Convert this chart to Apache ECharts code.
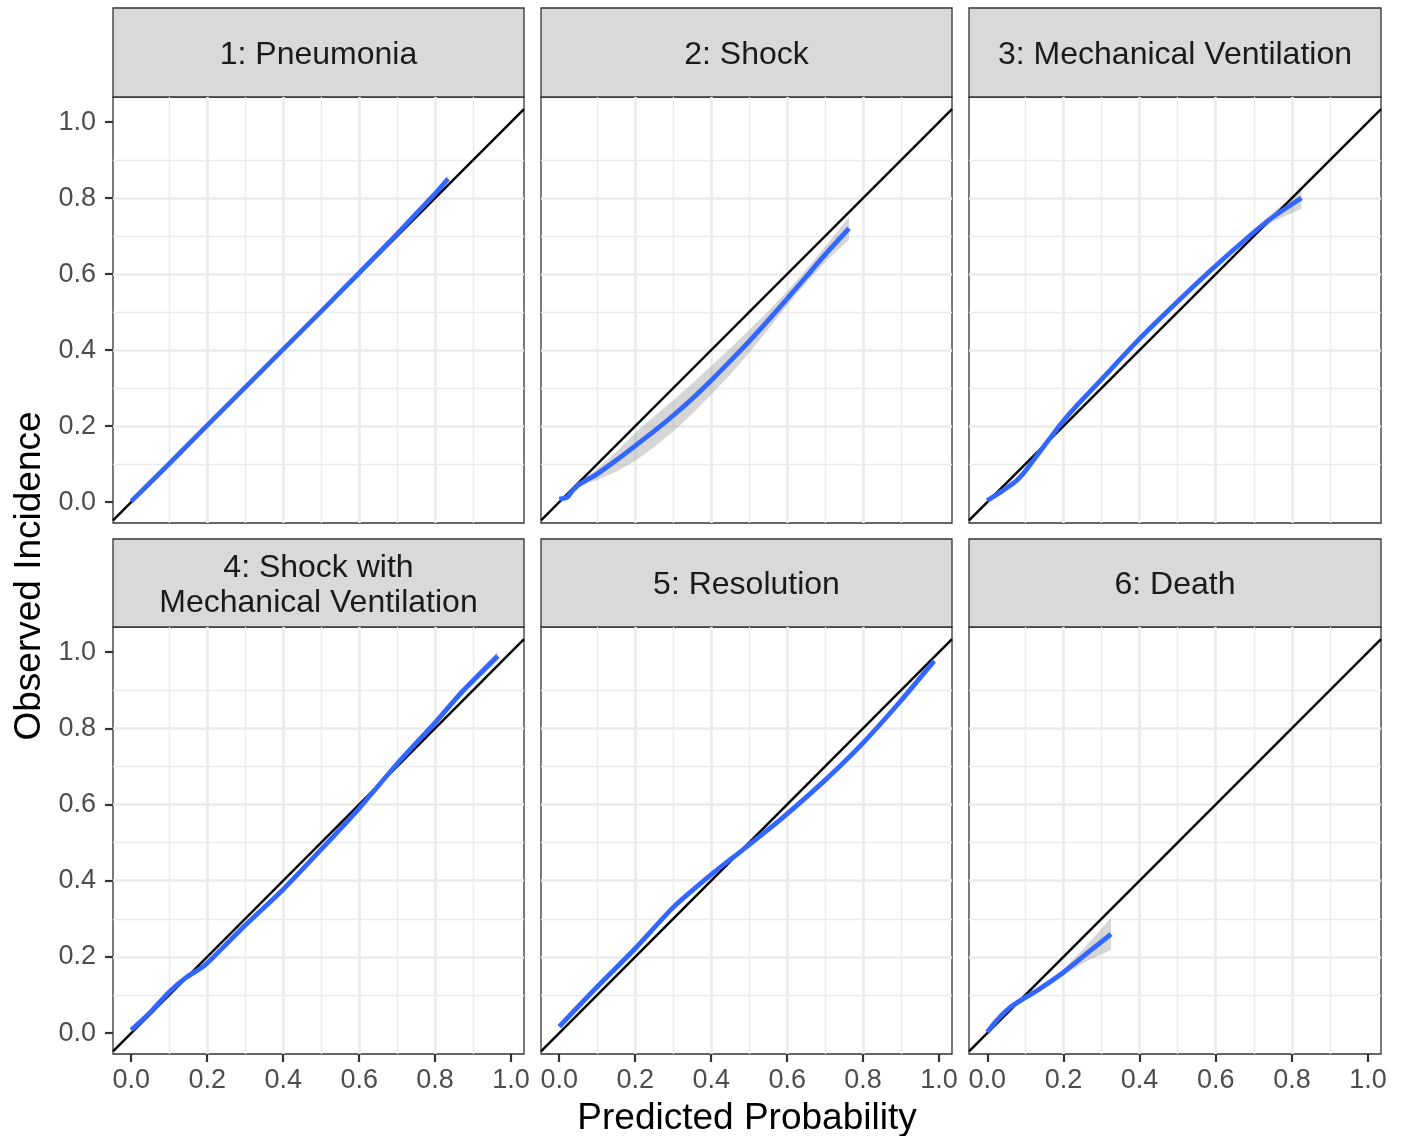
<!DOCTYPE html>
<html>
<head>
<meta charset="utf-8">
<script src="https://cdn.jsdelivr.net/npm/echarts@6/dist/echarts.min.js"></script>
<style>
html,body{margin:0;padding:0;background:#ffffff;}
#chart{width:1402px;height:1136px;}
</style>
</head>
<body>
<div id="chart"></div>
<script>
// ---------- data ----------
const panelTitles = ['1: Pneumonia', '2: Shock', '3: Mechanical Ventilation',
  '4: Shock with\nMechanical Ventilation', '5: Resolution', '6: Death'];
const tickValues = [0.0, 0.2, 0.4, 0.6, 0.8, 1.0];
const xLimits = [-0.048, 1.034];
const yLimits = [-0.055, 1.066];
const ablineIntercept = 0;
const ablineSlope = 1;
const xTitle = 'Predicted Probability';
const yTitle = 'Observed Incidence';

const pneumoniaX  = [0.0, 0.1, 0.2, 0.3, 0.4, 0.5, 0.6, 0.7, 0.8, 0.834];
const pneumoniaY  = [0.002, 0.101, 0.202, 0.302, 0.402, 0.502, 0.603, 0.706, 0.812, 0.851];
const pneumoniaLo = [-0.002, 0.098, 0.199, 0.299, 0.399, 0.499, 0.600, 0.702, 0.806, 0.842];
const pneumoniaHi = [0.006, 0.104, 0.205, 0.305, 0.405, 0.505, 0.606, 0.710, 0.818, 0.860];

const shockX  = [0.0, 0.02, 0.035, 0.05, 0.07, 0.1, 0.15, 0.2, 0.25, 0.3, 0.35, 0.4, 0.45, 0.5, 0.55, 0.6, 0.65, 0.7, 0.763];
const shockY  = [0.008, 0.012, 0.030, 0.045, 0.057, 0.074, 0.110, 0.148, 0.187, 0.228, 0.272, 0.320, 0.371, 0.423, 0.478, 0.535, 0.593, 0.651, 0.720];
const shockLo = [0.006, 0.009, 0.026, 0.040, 0.048, 0.058, 0.080, 0.108, 0.145, 0.186, 0.232, 0.283, 0.335, 0.393, 0.455, 0.518, 0.576, 0.632, 0.691];
const shockHi = [0.010, 0.015, 0.034, 0.050, 0.064, 0.088, 0.132, 0.182, 0.226, 0.268, 0.312, 0.358, 0.405, 0.453, 0.502, 0.555, 0.612, 0.672, 0.751];

const mechVentX  = [0.0, 0.04, 0.075, 0.1, 0.136, 0.17, 0.2, 0.25, 0.3, 0.4, 0.5, 0.6, 0.7, 0.75, 0.825];
const mechVentY  = [0.004, 0.030, 0.055, 0.082, 0.130, 0.175, 0.214, 0.270, 0.323, 0.430, 0.528, 0.622, 0.710, 0.750, 0.800];
const mechVentLo = [0.001, 0.027, 0.052, 0.079, 0.127, 0.172, 0.211, 0.267, 0.320, 0.427, 0.525, 0.618, 0.703, 0.738, 0.772];
const mechVentHi = [0.007, 0.033, 0.058, 0.085, 0.133, 0.178, 0.217, 0.273, 0.326, 0.433, 0.531, 0.626, 0.717, 0.762, 0.822];

const shockMvX  = [0.0, 0.048, 0.1, 0.145, 0.19, 0.215, 0.3, 0.4, 0.5, 0.6, 0.7, 0.8, 0.873, 0.965];
const shockMvY  = [0.008, 0.052, 0.108, 0.146, 0.175, 0.198, 0.283, 0.377, 0.482, 0.590, 0.707, 0.815, 0.898, 0.990];
const shockMvLo = [0.005, 0.049, 0.105, 0.143, 0.172, 0.195, 0.280, 0.374, 0.479, 0.587, 0.703, 0.809, 0.890, 0.978];
const shockMvHi = [0.011, 0.055, 0.111, 0.149, 0.178, 0.201, 0.286, 0.380, 0.485, 0.593, 0.711, 0.821, 0.906, 1.002];

const resolutionX  = [0.0, 0.083, 0.2, 0.3, 0.4, 0.478, 0.583, 0.7, 0.8, 0.9, 0.987];
const resolutionY  = [0.017, 0.104, 0.222, 0.330, 0.416, 0.477, 0.561, 0.664, 0.762, 0.873, 0.977];
const resolutionLo = [0.013, 0.100, 0.218, 0.326, 0.412, 0.473, 0.557, 0.660, 0.758, 0.868, 0.971];
const resolutionHi = [0.021, 0.108, 0.226, 0.334, 0.420, 0.481, 0.565, 0.668, 0.766, 0.878, 0.983];

const deathX  = [0.0, 0.022, 0.057, 0.096, 0.127, 0.197, 0.259, 0.325];
const deathY  = [0.002, 0.030, 0.065, 0.091, 0.109, 0.157, 0.207, 0.260];
const deathLo = [-0.001, 0.027, 0.062, 0.088, 0.106, 0.150, 0.188, 0.218];
const deathHi = [0.005, 0.033, 0.068, 0.094, 0.112, 0.164, 0.228, 0.303];

const panelX  = [pneumoniaX, shockX, mechVentX, shockMvX, resolutionX, deathX];
const panelY  = [pneumoniaY, shockY, mechVentY, shockMvY, resolutionY, deathY];
const panelLo = [pneumoniaLo, shockLo, mechVentLo, shockMvLo, resolutionLo, deathLo];
const panelHi = [pneumoniaHi, shockHi, mechVentHi, shockMvHi, resolutionHi, deathHi];

// ---------- layout / style ----------
const FONT = '"Liberation Sans", Arial, Helvetica, sans-serif';
const colLeft = [113, 541, 969];
const colWidth = [411, 411, 412];
const stripTop = [8, 539];
const stripH = [89, 88];
const plotTop = [97, 627];
const plotH = [426, 427];

const grids = [], xAxes = [], yAxes = [], series = [], graphics = [];
const fmt = v => v.toFixed(1);

for (let i = 0; i < 6; i++) {
  const r = Math.floor(i / 3), c = i % 3;
  grids.push({
    left: colLeft[c], top: plotTop[r], width: colWidth[c], height: plotH[r],
    show: true, backgroundColor: '#ffffff', borderColor: '#333333', borderWidth: 1.3,
    containLabel: false, outerBoundsMode: 'none'
  });
  const common = {
    gridIndex: i, type: 'value', splitNumber: 5,
    axisLine: { show: false, onZero: false },
    splitLine: { show: true, showMinLine: false, showMaxLine: false,
      lineStyle: { color: '#EBEBEB', width: 2.6 } },
    minorTick: { show: false, splitNumber: 2 },
    minorSplitLine: { show: true, lineStyle: { color: '#EBEBEB', width: 1.3 } }
  };
  xAxes.push(Object.assign({}, common, {
    min: xLimits[0], max: xLimits[1],
    axisTick: { show: r === 1, length: 8, customValues: tickValues,
      lineStyle: { color: '#333333', width: 2.2 } },
    axisLabel: { show: r === 1, customValues: tickValues, formatter: fmt,
      color: '#4D4D4D', fontSize: 27, fontFamily: FONT, margin: 13 }
  }));
  yAxes.push(Object.assign({}, common, {
    min: yLimits[0], max: yLimits[1],
    axisTick: { show: c === 0, length: 8, customValues: tickValues,
      lineStyle: { color: '#333333', width: 2.2 } },
    axisLabel: { show: c === 0, customValues: tickValues, formatter: fmt,
      color: '#4D4D4D', fontSize: 27, fontFamily: FONT, margin: 17 }
  }));

  const xs = panelX[i], lo = panelLo[i], hi = panelHi[i], ys = panelY[i];
  // confidence band
  series.push({
    type: 'custom', coordinateSystem: 'cartesian2d', xAxisIndex: i, yAxisIndex: i,
    z: 2, silent: true, clip: true,
    data: xs.map((x, k) => [x, lo[k], hi[k]]),
    encode: { x: 0, y: [1, 2] },
    renderItem: function (params, api) {
      if (params.dataIndex !== 0) return null;
      const pts = [];
      for (let k = 0; k < xs.length; k++) pts.push(api.coord([xs[k], lo[k]]));
      for (let k = xs.length - 1; k >= 0; k--) pts.push(api.coord([xs[k], hi[k]]));
      return { type: 'polygon', shape: { points: pts }, style: { fill: 'rgba(153,153,153,0.4)' } };
    }
  });
  // identity line y = x across the panel
  series.push({
    type: 'line', xAxisIndex: i, yAxisIndex: i, z: 3, silent: true,
    symbol: 'none', clip: true,
    data: xLimits.map(x => [x, ablineIntercept + ablineSlope * x]),
    lineStyle: { color: '#000000', width: 2.4 }
  });
  // smoothed calibration curve
  series.push({
    type: 'line', xAxisIndex: i, yAxisIndex: i, z: 4, silent: true,
    symbol: 'none', clip: true, smooth: 0.2,
    data: xs.map((x, k) => [x, ys[k]]),
    lineStyle: { color: '#3366FF', width: 4.8 }
  });

  // strip
  graphics.push({
    type: 'rect', silent: true,
    shape: { x: colLeft[c], y: stripTop[r], width: colWidth[c], height: stripH[r] },
    style: { fill: '#D9D9D9', stroke: '#333333', lineWidth: 1.3 }
  });
  graphics.push({
    type: 'text', silent: true,
    x: colLeft[c] + colWidth[c] / 2, y: stripTop[r] + stripH[r] / 2 + 2.5,
    style: { text: panelTitles[i], fill: '#1A1A1A', fontSize: 32, fontFamily: FONT,
      align: 'center', verticalAlign: 'middle', textAlign: 'center', textVerticalAlign: 'middle',
      lineHeight: 35 }
  });
}

graphics.push({
  type: 'text', silent: true, x: 747, y: 1119,
  style: { text: xTitle, fill: '#000000', fontSize: 37, fontFamily: FONT,
    align: 'center', verticalAlign: 'middle', textAlign: 'center', textVerticalAlign: 'middle' }
});
graphics.push({
  type: 'text', silent: true, x: 30, y: 576, rotation: Math.PI / 2,
  style: { text: yTitle, fill: '#000000', fontSize: 37, fontFamily: FONT,
    align: 'center', verticalAlign: 'middle', textAlign: 'center', textVerticalAlign: 'middle' }
});

const chart = echarts.init(document.getElementById('chart'), null, { renderer: 'canvas' });
chart.setOption({
  animation: false,
  backgroundColor: '#ffffff',
  textStyle: { fontFamily: FONT },
  grid: grids,
  xAxis: xAxes,
  yAxis: yAxes,
  series: series,
  graphic: { elements: graphics }
});
</script>
</body>
</html>
